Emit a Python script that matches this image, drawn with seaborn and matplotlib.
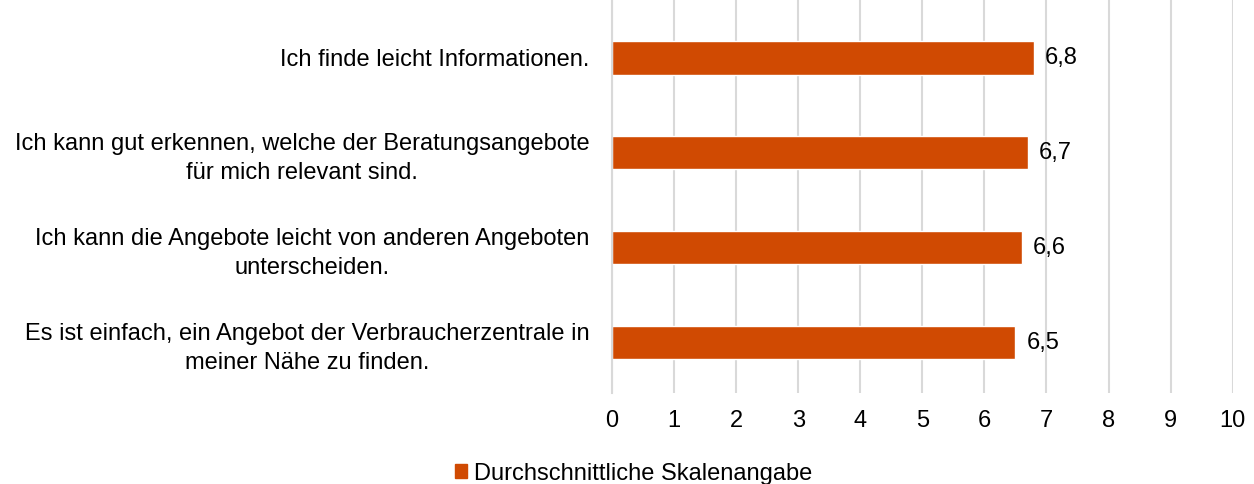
import matplotlib
matplotlib.use("Agg")
import matplotlib.pyplot as plt
import pandas as pd
import seaborn as sbn
from matplotlib.patches import Patch

statements = [
    "Ich finde leicht Informationen.",
    "Ich kann gut erkennen, welche der Beratungsangebote\nfür mich relevant sind.",
    "Ich kann die Angebote leicht von anderen Angeboten\nunterscheiden.",
    "Es ist einfach, ein Angebot der Verbraucherzentrale in\nmeiner Nähe zu finden.",
]
scores = [6.8, 6.7, 6.6, 6.5]
value_labels = ["6,8", "6,7", "6,6", "6,5"]
series_name = "Durchschnittliche Skalenangabe"

bar_color = "#D04A02"
grid_color = "#D9D9D9"

sbn.set_theme(style="white")
plt.rcParams["font.family"] = ["Liberation Sans", "DejaVu Sans"]
plt.rcParams["text.color"] = "black"

df = pd.DataFrame({"statement": statements, "score": scores})

fig = plt.figure(figsize=(12.54, 4.84), dpi=100)
ax = fig.add_axes([0.488, 0.188, 0.495, 0.812])

sbn.barplot(data=df, x="score", y="statement", color=bar_color,
            width=0.35, saturation=1, ax=ax)

ax.set_xlim(0, 10)
ax.set_xticks(range(0, 11))
ax.set_ylim(3.53, -0.61)
ax.grid(axis="x", color=grid_color, linewidth=1.5)
ax.set_axisbelow(True)
for side in ["top", "right", "bottom"]:
    ax.spines[side].set_visible(False)
ax.spines["left"].set_color(grid_color)
ax.spines["left"].set_linewidth(1.5)
ax.set_xlabel("")
ax.set_ylabel("")
ax.tick_params(axis="both", length=0, labelsize=17, colors="black")
ax.tick_params(axis="y", pad=16)
ax.tick_params(axis="x", pad=12)
# wrapped labels are centred line by line
for lbl in ax.get_yticklabels():
    lbl.set_multialignment("center")
    lbl.set_linespacing(1.4)

for i, (v, lab) in enumerate(zip(scores, value_labels)):
    ax.annotate(lab, xy=(v, i), xytext=(8, 0), textcoords="offset points",
                va="center", ha="left", fontsize=17, color="black")

fig.legend(handles=[Patch(color=bar_color, label=series_name)],
           loc="lower center", bbox_to_anchor=(0.505, -0.045), frameon=False,
           fontsize=17, handlelength=0.5, handleheight=0.5, handletextpad=0.3)

fig.savefig("out.png", dpi=100)
